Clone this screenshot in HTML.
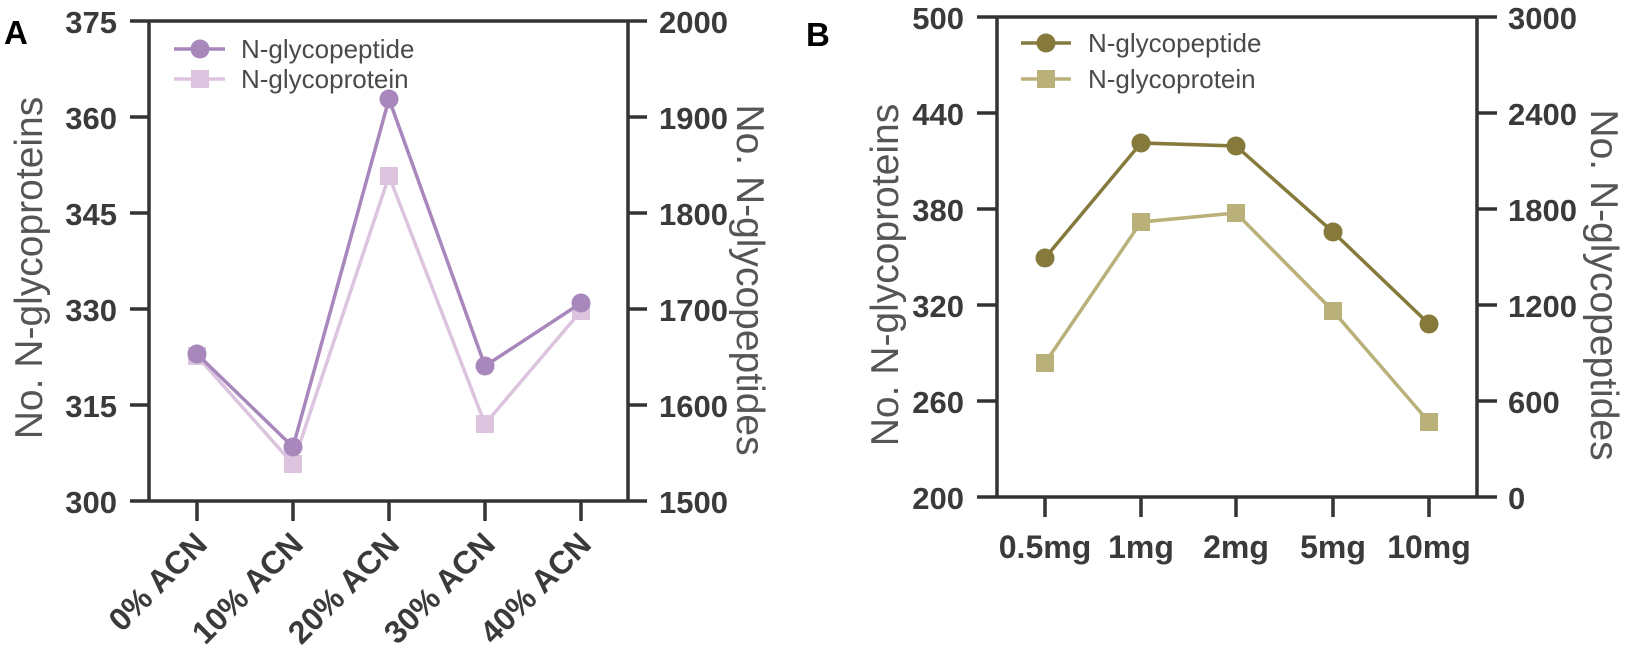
<!DOCTYPE html>
<html><head><meta charset="utf-8"><style>
html,body{margin:0;padding:0;background:#fff;}
svg{display:block;}
.t{font-family:"Liberation Sans",Arial,sans-serif;font-weight:bold;font-size:31px;fill:#3a3a3a;}
.x{font-family:"Liberation Sans",Arial,sans-serif;font-weight:bold;font-size:32px;fill:#3a3a3a;}
.l{font-family:"Liberation Sans",Arial,sans-serif;font-size:26px;fill:#4a4a4a;}
.at{font-family:"Liberation Sans",Arial,sans-serif;font-size:39px;fill:#555;}
</style></head><body>
<svg width="1625" height="668" viewBox="0 0 1625 668" xmlns="http://www.w3.org/2000/svg">
<!-- Panel A -->
<text x="4" y="44" font-family="Liberation Sans,Arial,sans-serif" font-weight="bold" font-size="33" fill="#000">A</text>
<g stroke="#333" stroke-width="3.5" fill="none">
<path d="M149 21 V501 M628 21 V501 M130 21 H647 M130 501 H647"/>
<path d="M130 117 H149 M130 213 H149 M130 309 H149 M130 405 H149"/>
<path d="M628 117 H647 M628 213 H647 M628 309 H647 M628 405 H647"/>
<path d="M197 501 V521 M293 501 V521 M389 501 V521 M485 501 V521 M581 501 V521"/>
</g>
<g class="t" text-anchor="end">
<text x="117" y="33">375</text><text x="117" y="129">360</text><text x="117" y="225">345</text>
<text x="117" y="321">330</text><text x="117" y="417">315</text><text x="117" y="513">300</text>
</g>
<g class="t">
<text x="659" y="33">2000</text><text x="659" y="129">1900</text><text x="659" y="225">1800</text>
<text x="659" y="321">1700</text><text x="659" y="417">1600</text><text x="659" y="513">1500</text>
</g>
<g class="x" text-anchor="end">
<text transform="translate(209,546) rotate(-45)">0% ACN</text>
<text transform="translate(305,546) rotate(-45)">10% ACN</text>
<text transform="translate(401,546) rotate(-45)">20% ACN</text>
<text transform="translate(497,546) rotate(-45)">30% ACN</text>
<text transform="translate(593,546) rotate(-45)">40% ACN</text>
</g>
<text class="at" text-anchor="middle" transform="translate(42,268) rotate(-90)">No. N-glycoproteins</text>
<text class="at" text-anchor="middle" transform="translate(737,280) rotate(90)">No. N-glycopeptides</text>
<polyline points="197,356 293,464 389,176 485,424 581,311" fill="none" stroke="#dcc4df" stroke-width="3.5"/>
<g fill="#dcc4df">
<rect x="188" y="347" width="18" height="18"/><rect x="284" y="455" width="18" height="18"/>
<rect x="380" y="167" width="18" height="18"/><rect x="476" y="415" width="18" height="18"/>
<rect x="572" y="302" width="18" height="18"/>
</g>
<polyline points="197,354 293,447 389,99 485,366 581,303" fill="none" stroke="#a887bd" stroke-width="3.5"/>
<g fill="#a887bd">
<circle cx="197" cy="354" r="9.5"/><circle cx="293" cy="447" r="9.5"/><circle cx="389" cy="99" r="9.5"/>
<circle cx="485" cy="366" r="9.5"/><circle cx="581" cy="303" r="9.5"/>
</g>
<line x1="174" y1="49" x2="225" y2="49" stroke="#a887bd" stroke-width="3.5"/><circle cx="200" cy="49" r="9.5" fill="#a887bd"/>
<line x1="174" y1="79" x2="225" y2="79" stroke="#dcc4df" stroke-width="3.5"/><rect x="191" y="70" width="18" height="18" fill="#dcc4df"/>
<text class="l" x="241" y="58">N-glycopeptide</text>
<text class="l" x="241" y="88">N-glycoprotein</text>

<!-- Panel B -->
<text x="806" y="46" font-family="Liberation Sans,Arial,sans-serif" font-weight="bold" font-size="33" fill="#000">B</text>
<g stroke="#333" stroke-width="3.5" fill="none">
<path d="M997 17 V497 M1477 17 V497 M977 17 H1497 M977 497 H1497"/>
<path d="M977 113 H997 M977 209 H997 M977 305 H997 M977 401 H997"/>
<path d="M1477 113 H1497 M1477 209 H1497 M1477 305 H1497 M1477 401 H1497"/>
<path d="M1045 497 V517 M1141 497 V517 M1236 497 V517 M1333 497 V517 M1429 497 V517"/>
</g>
<g class="t" text-anchor="end">
<text x="964" y="29">500</text><text x="964" y="125">440</text><text x="964" y="221">380</text>
<text x="964" y="317">320</text><text x="964" y="413">260</text><text x="964" y="509">200</text>
</g>
<g class="t">
<text x="1508" y="29">3000</text><text x="1508" y="125">2400</text><text x="1508" y="221">1800</text>
<text x="1508" y="317">1200</text><text x="1508" y="413">600</text><text x="1508" y="509">0</text>
</g>
<g class="x" text-anchor="middle">
<text x="1045" y="558">0.5mg</text><text x="1141" y="558">1mg</text><text x="1236" y="558">2mg</text>
<text x="1333" y="558">5mg</text><text x="1429" y="558">10mg</text>
</g>
<text class="at" text-anchor="middle" transform="translate(898,275) rotate(-90)">No. N-glycoproteins</text>
<text class="at" text-anchor="middle" transform="translate(1591,285) rotate(90)">No. N-glycopeptides</text>
<polyline points="1045,363 1141,222 1236,213 1333,311 1429,422" fill="none" stroke="#b9b07a" stroke-width="3.5"/>
<g fill="#b9b07a">
<rect x="1036" y="354" width="18" height="18"/><rect x="1132" y="213" width="18" height="18"/>
<rect x="1227" y="204" width="18" height="18"/><rect x="1324" y="302" width="18" height="18"/>
<rect x="1420" y="413" width="18" height="18"/>
</g>
<polyline points="1045,258 1141,143 1236,146 1333,232 1429,324" fill="none" stroke="#857a3c" stroke-width="3.5"/>
<g fill="#857a3c">
<circle cx="1045" cy="258" r="9.5"/><circle cx="1141" cy="143" r="9.5"/><circle cx="1236" cy="146" r="9.5"/>
<circle cx="1333" cy="232" r="9.5"/><circle cx="1429" cy="324" r="9.5"/>
</g>
<line x1="1021" y1="43" x2="1071" y2="43" stroke="#857a3c" stroke-width="3.5"/><circle cx="1046" cy="43" r="9.5" fill="#857a3c"/>
<line x1="1021" y1="79" x2="1071" y2="79" stroke="#b9b07a" stroke-width="3.5"/><rect x="1037" y="70" width="18" height="18" fill="#b9b07a"/>
<text class="l" x="1088" y="52">N-glycopeptide</text>
<text class="l" x="1088" y="88">N-glycoprotein</text>
</svg>
</body></html>
